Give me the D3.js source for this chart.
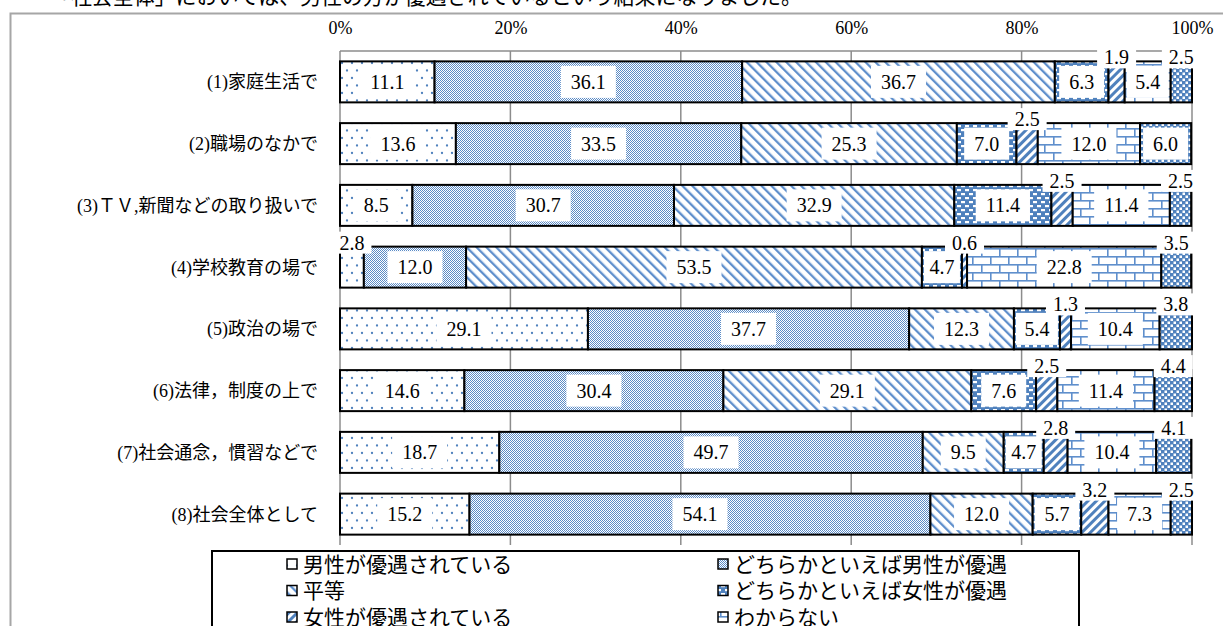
<!DOCTYPE html>
<html><head><meta charset="utf-8">
<script src="https://cdn.jsdelivr.net/npm/d3@7"></script>
<style>html,body{margin:0;padding:0;background:#fff;overflow:hidden}</style>
</head><body>
<svg id="chart" width="1223" height="626"></svg>
<script>
// Survey: perceived gender equality by domain (%)
const categories = ["(1)家庭生活で","(2)職場のなかで","(3)ＴＶ,新聞などの取り扱いで","(4)学校教育の場で","(5)政治の場で","(6)法律，制度の上で","(7)社会通念，慣習などで","(8)社会全体として"];
const seriesNames = ["男性が優遇されている","どちらかといえば男性が優遇","平等","どちらかといえば女性が優遇","女性が優遇されている","わからない","無回答"];
const menFavored   = [11.1,13.6, 8.5, 2.8,29.1,14.6,18.7,15.2];
const ratherMen    = [36.1,33.5,30.7,12.0,37.7,30.4,49.7,54.1];
const equal        = [36.7,25.3,32.9,53.5,12.3,29.1, 9.5,12.0];
const ratherWomen  = [ 6.3, 7.0,11.4, 4.7, 5.4, 7.6, 4.7, 5.7];
const womenFavored = [ 1.9, 2.5, 2.5, 0.6, 1.3, 2.5, 2.8, 3.2];
const unknown      = [ 5.4,12.0,11.4,22.8,10.4,11.4,10.4, 7.3];
const noAnswer     = [ 2.5, 6.0, 2.5, 3.5, 3.8, 4.4, 4.1, 2.5];
const tickValues = [0,20,40,60,80,100];
const headline = "「社会全体」においては、男性の方が優遇されているという結果になりました。";

const seriesValues = [menFavored, ratherMen, equal, ratherWomen, womenFavored, unknown, noAnswer];
const rows = categories.map((c, i) => {
  const r = {category: c};
  seriesNames.forEach((s, k) => r[s] = seriesValues[k][i]);
  return r;
});

const BLUE = "#4f81bd";
const svg = d3.select("#chart");
const defs = svg.append("defs");

// Fill patterns, one per response
function pat(id, w, h, build, transform) {
  const p = defs.append("pattern").attr("id", id).attr("patternUnits", "userSpaceOnUse")
    .attr("width", w).attr("height", h);
  if (transform) p.attr("patternTransform", transform);
  p.append("rect").attr("width", w).attr("height", h).attr("fill", "#fff");
  build(p);
}
pat("p0", 10, 15, p => {
  [[2,3],[7,10.5]].forEach(([x,y]) => p.append("circle").attr("cx", x).attr("cy", y).attr("r", 1.15).attr("fill", BLUE));
});
pat("p1", 2, 2, p => {
  p.append("rect").attr("x",0).attr("y",0).attr("width",1).attr("height",1).attr("fill", "#5b8bc6");
  p.append("rect").attr("x",1).attr("y",1).attr("width",1).attr("height",1).attr("fill", "#5b8bc6");
});
pat("p2", 7, 7, p => {
  p.append("rect").attr("x",0).attr("y",0).attr("width",2.3).attr("height",7).attr("fill", "#5f8fcc");
}, "rotate(-45)");
pat("p3", 8, 8, p => {
  p.select("rect").attr("fill", BLUE);
  [[1,1,4],[5,5,3],[0,5,1]].forEach(([x,y,w]) => p.append("rect").attr("x",x).attr("y",y).attr("width",w).attr("height",2.2).attr("fill","#fff"));
});
pat("p4", 6, 6, p => {
  p.append("rect").attr("x",0).attr("y",0).attr("width",3).attr("height",6).attr("fill", BLUE);
}, "rotate(45)");
pat("p5", 18, 16, p => {
  const c = "#5f8fcc";
  p.append("rect").attr("x",0).attr("y",0).attr("width",18).attr("height",1.6).attr("fill",c);
  p.append("rect").attr("x",0).attr("y",8).attr("width",18).attr("height",1.6).attr("fill",c);
  p.append("rect").attr("x",0).attr("y",0).attr("width",1.6).attr("height",8).attr("fill",c);
  p.append("rect").attr("x",9).attr("y",8).attr("width",1.6).attr("height",8).attr("fill",c);
});
pat("p6", 6, 6, p => {
  p.select("rect").attr("fill", BLUE);
  p.append("rect").attr("x",0.5).attr("y",0.5).attr("width",2.5).attr("height",2.5).attr("fill","#fff");
  p.append("rect").attr("x",3.5).attr("y",3.5).attr("width",2.5).attr("height",2.5).attr("fill","#fff");
});
const fillOf = d3.scaleOrdinal().domain(seriesNames).range(seriesNames.map((_, k) => `url(#p${k})`));

// Headline sentence (runs above the chart frame)
svg.append("text").attr("x", 50).attr("y", 4)
  .attr("font-family", "'Noto Sans CJK JP'").attr("font-size", 22)
  .attr("textLength", 752).attr("lengthAdjust", "spacingAndGlyphs")
  .text(headline);

// Outer frame
svg.append("path").attr("d", "M10.5,640 V13.5 H1240").attr("fill", "none")
  .attr("stroke", "#a6a6a6").attr("stroke-width", 2);

const x = d3.scaleLinear().domain([0, 100]).range([340, 1192]);
const y = d3.scaleBand().domain(categories).range([51, 545]).paddingInner(0.336).paddingOuter(0.168);

// Gridlines and value axis along the top
const grid = svg.append("g");
grid.selectAll("line").data(tickValues).join("line")
  .attr("x1", d => x(d)).attr("x2", d => x(d)).attr("y1", 51).attr("y2", 545)
  .attr("stroke", "#8c8c8c").attr("stroke-width", 1.5);
grid.append("line").attr("x1", x(0)).attr("x2", x(100)).attr("y1", 51).attr("y2", 51)
  .attr("stroke", "#8c8c8c").attr("stroke-width", 1.5);

const axis = svg.append("g").attr("transform", "translate(0,28)")
  .call(d3.axisTop(x).tickValues(tickValues).tickFormat(d => d + "%").tickSize(0).tickPadding(0));
axis.select(".domain").remove();
axis.selectAll("text").attr("font-family", "'Liberation Serif'").attr("font-size", 18)
  .attr("fill", "#000").attr("dy", "0.35em");

// Category labels
svg.append("g").selectAll("text").data(categories).join("text")
  .attr("x", 318).attr("y", d => y(d) + y.bandwidth() / 2).attr("dy", "0.36em")
  .attr("text-anchor", "end")
  .attr("font-family", "'Liberation Serif','Noto Sans CJK JP'").attr("font-size", 18)
  .text(d => d);

// Stacked bars
const stacked = d3.stack().keys(seriesNames)(rows);
const segs = [];
stacked.forEach(layer => layer.forEach(d => segs.push({key: layer.key, cat: d.data.category, x0: d[0], x1: d[1], v: d.data[layer.key]})));

svg.append("g").selectAll("rect").data(segs).join("rect")
  .attr("x", d => x(d.x0)).attr("width", d => x(d.x1) - x(d.x0))
  .attr("y", d => y(d.cat)).attr("height", y.bandwidth())
  .attr("fill", d => fillOf(d.key)).attr("stroke", "#000").attr("stroke-width", 2);

// Value labels on white boxes; narrow segments get theirs on the bar's top edge
const lab = svg.append("g");
segs.forEach(d => {
  const g = lab.append("g");
  const cx = (x(d.x0) + x(d.x1)) / 2;
  const outside = d.v < 4.5;
  const cy = outside ? y(d.cat) - 4 : y(d.cat) + y.bandwidth() / 2;
  const rect = g.append("rect").attr("fill", "#fff");
  const t = g.append("text").attr("x", cx).attr("y", cy).attr("dy", "0.35em")
    .attr("text-anchor", "middle").attr("font-family", "'Liberation Serif'").attr("font-size", 20)
    .text(d3.format(".1f")(d.v));
  const tw = t.node().getComputedTextLength();
  let bw, bh;
  if (outside) { bw = tw + 14; bh = 22; }
  else { bw = Math.min(tw + 20, x(d.x1) - x(d.x0) - 4); bh = 32; }
  rect.attr("x", cx - bw / 2).attr("y", cy - bh / 2).attr("width", bw).attr("height", bh);
});

// Legend
const lg = svg.append("g");
lg.append("rect").attr("x", 212).attr("y", 551).attr("width", 867).attr("height", 120)
  .attr("fill", "#fff").attr("stroke", "#000").attr("stroke-width", 2);
seriesNames.forEach((s, k) => {
  const col = k % 2, row = Math.floor(k / 2);
  const mx = col ? 718 : 287, my = 564 + row * 26.5;
  lg.append("rect").attr("x", mx).attr("y", my - 5).attr("width", 10).attr("height", 10)
    .attr("fill", fillOf(s)).attr("stroke", "#000").attr("stroke-width", 1.5);
  lg.append("text").attr("x", mx + 16).attr("y", my).attr("dy", "0.36em")
    .attr("font-family", "'Noto Sans CJK JP'").attr("font-size", 21).text(s);
});
</script>
</body></html>
